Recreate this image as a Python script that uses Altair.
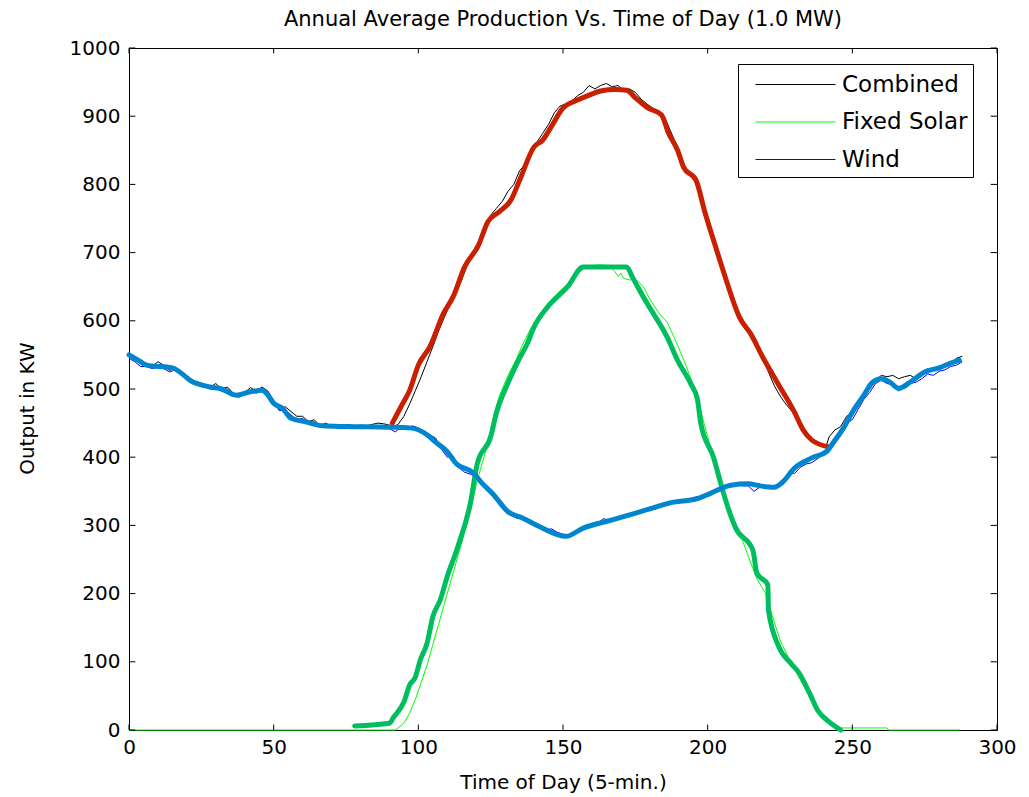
import altair as alt
import pandas as pd

# ---------------- data ----------------
# thick (smoothed) curves
wind_s_x = [0, 4, 6, 15, 19, 21, 28, 32, 37, 42, 46, 48, 50, 53, 56, 61, 67, 75, 90, 97, 103, 106, 110, 113,
            119, 122, 126, 131, 136, 142, 151, 157, 167, 179, 187, 197, 201, 208, 214, 218, 223, 226, 230, 236,
            241, 244, 247, 250, 254, 257, 260, 263, 266, 270, 275, 280, 284, 287]
wind_s_y = [550, 540, 535, 531, 520, 513, 503, 500, 491, 496, 498, 491, 479, 472, 457, 452, 446, 445, 444, 443,
            433, 422, 408, 391, 377, 362, 345, 320, 311, 298, 284, 296, 308, 323, 333, 340, 347, 359, 361, 358,
            356, 364, 384, 399, 408, 425, 443, 466, 491, 510, 515, 510, 501, 510, 525, 531, 538, 542]

comb_s_x = [91, 94, 97, 100, 104, 108.7, 112, 116, 120.8, 124, 128, 132, 135, 140, 143, 146, 150, 154, 158,
            163, 168, 172, 175, 179, 184, 186.5, 189.6, 191.7, 196, 199, 203, 206, 211, 215, 219, 224, 230,
            233, 236, 242]
comb_s_y = [450, 474, 498, 535, 562, 611, 635, 679, 711, 745, 760, 777, 806, 855, 865, 885, 912, 922, 929,
            937, 939, 938, 927, 913, 902, 875, 850, 825, 806, 760, 705, 665, 605, 580, 547, 510, 466, 440,
            425, 415]

solar_s_x = [78, 90, 91.5, 95, 97, 99, 100.7, 103, 105, 107.6, 110, 113.5, 118, 120.4, 125, 127, 131, 134.6,
             137.7, 140, 144.6, 151.6, 157, 172, 174, 175.8, 179, 186, 189.6, 194, 196.5, 197.6, 202, 204.5,
             205.5, 209.7, 215.6, 217, 220.8, 221, 224.6, 228.7, 231.5, 235, 238, 242, 246]
solar_s_y = [6, 10, 19, 41, 66, 78, 103, 127, 166, 191, 225, 267, 333, 391, 430, 465, 509, 542, 567, 591,
             620, 650, 679, 679, 664, 650, 626, 576, 542, 509, 484, 450, 400, 362, 347, 296, 264, 230, 213,
             176, 122, 98, 84, 56, 29, 12, 0]

# thin (raw) curves
solar_x = [0, 92, 93, 95, 97, 99, 101, 103, 105, 107, 109, 111, 113, 116, 118, 120, 122, 124, 126, 128, 131,
           134, 136, 139, 142, 145, 148, 152, 155, 158, 162, 166, 168, 169, 170, 171, 173, 175, 176, 178, 180,
           183, 186, 189, 192, 195, 197, 199, 202, 205, 208, 211, 214, 217, 220, 222, 225, 228, 231, 234, 237,
           240, 243, 245, 250, 262, 262.5, 287]
solar_y = [0, 0, 3, 10, 25, 45, 70, 95, 125, 155, 185, 215, 245, 290, 320, 360, 390, 420, 460, 490, 520,
           545, 565, 590, 610, 625, 640, 655, 668, 680, 682, 681, 672, 665, 670, 662, 660, 660, 658, 648, 632,
           612, 598, 570, 540, 506, 480, 445, 400, 355, 320, 290, 255, 222, 200, 172, 132, 105, 82, 58, 35,
           15, 6, 3, 3, 3, 0, 0]

wind_x = list(range(0, 290, 2))
wind_y = [545, 540, 533, 533, 530, 532, 530, 525, 528, 522, 515, 510, 507, 505, 500, 503, 497, 500, 492,
          488, 492, 497, 494, 498, 495, 480, 468, 470, 462, 455, 457, 450, 452, 444, 448, 443, 446, 444,
          447, 444, 446, 446, 445, 443, 446, 442, 437, 444, 442, 446, 443, 438, 433, 428, 412, 400, 402,
          385, 378, 375, 372, 362, 350, 347, 333, 327, 318, 310, 313, 308, 302, 300, 293, 295, 290, 287,
          285, 290, 295, 300, 302, 303, 310, 307, 310, 313, 312, 318, 320, 322, 327, 323, 332, 332, 336,
          336, 338, 337, 342, 340, 345, 347, 352, 355, 358, 360, 358, 358, 350, 356, 355, 355, 358, 360,
          378, 376, 385, 390, 392, 398, 404, 410, 420, 432, 450, 455, 470, 485, 495, 508, 513, 508, 506,
          497, 505, 508, 510, 515, 522, 520, 526, 528, 533, 535, 540]

comb_x = (list(range(0, 93, 2)) + list(range(93, 242, 2)) + list(range(242, 290, 2)))
comb_y = [548, 543, 537, 538, 533, 540, 535, 527, 532, 525, 517, 512, 510, 507, 503, 508, 500, 503, 494,
          490, 495, 502, 497, 503, 497, 483, 470, 474, 467, 460, 460, 452, 455, 446, 450, 445, 447, 445,
          448, 445, 447, 446, 448, 450, 449, 447, 446,
          448, 460, 478, 498, 518, 540, 562, 585, 605, 625, 640, 660, 683, 700, 715, 740, 755, 765, 775,
          790, 800, 820, 830, 850, 862, 875, 888, 905, 915, 918, 922, 930, 935, 945, 940, 945, 948, 943,
          945, 938, 940, 935, 925, 918, 912, 905, 900, 880, 860, 830, 820, 810, 790, 760, 735, 710, 680,
          655, 630, 610, 595, 585, 570, 545, 525, 505, 490, 478, 468, 455, 440, 428, 425, 420, 417,
          430, 440, 445, 460, 465, 475, 490, 500, 512, 520, 518, 520, 515, 518, 520, 515, 522, 530, 530,
          532, 535, 538, 545, 548]

series_names = ["Combined", "Fixed Solar", "Wind"]
thin_colors = ["#000000", "#00ff00", "#0000ff"]
thick_colors = ["#c82000", "#00be60", "#0085cf"]

x_ticks = [0, 50, 100, 150, 200, 250, 300]
y_ticks = [0, 100, 200, 300, 400, 500, 600, 700, 800, 900, 1000]

FONT = "DejaVu Sans"


def frame(xs, ys, name, order):
    n = min(len(xs), len(ys))
    return pd.DataFrame({"t": xs[:n], "kw": ys[:n], "series": name, "ord": order})


thin_df = pd.concat([
    frame(comb_x, comb_y, "Combined", 0),
    frame(solar_x, solar_y, "Fixed Solar", 1),
    frame(wind_x, wind_y, "Wind", 2),
])

x_scale = alt.Scale(domain=[0, 300], nice=False, zero=False)
y_scale = alt.Scale(domain=[0, 1000], nice=False)

x_enc = alt.X("t:Q", scale=x_scale,
              axis=alt.Axis(values=x_ticks, format="d", title="Time of Day (5-min.)", ticks=False,
                            labelPadding=7, titlePadding=15, grid=False, labelFlush=False))
y_enc = alt.Y("kw:Q", scale=y_scale,
              axis=alt.Axis(values=y_ticks, format="d", title="Output in KW", ticks=False, labelPadding=9,
                            grid=False, titleAngle=-90, titleX=-96, titleY=360, labelFlush=False,
                            titleAlign="center", titleBaseline="alphabetic"))

# legend line: a custom horizontal path, ~80 px long, with rows ~37 px apart
thin = alt.Chart(thin_df).mark_line(strokeWidth=1).encode(
    x=x_enc, y=y_enc,
    color=alt.Color("series:N",
                    scale=alt.Scale(domain=series_names, range=thin_colors),
                    legend=alt.Legend(title=None, orient="none", legendX=609, legendY=16,
                                      symbolType="M-0.2,0H5.13", symbolSize=900, symbolStrokeWidth=1,
                                      symbolFillColor="transparent",
                                      labelFont=FONT, labelFontSize=23, labelColor="black",
                                      fillColor="white", strokeColor="black", padding=5,
                                      rowPadding=9.5, labelOffset=68, labelLimit=300)),
    order="ord:Q",
    detail="series:N",
)

layers = [thin]
for xs, ys, name, col in [(comb_s_x, comb_s_y, "Combined", thick_colors[0]),
                          (solar_s_x, solar_s_y, "Fixed Solar", thick_colors[1]),
                          (wind_s_x, wind_s_y, "Wind", thick_colors[2])]:
    layers.append(
        alt.Chart(frame(xs, ys, name + " smoothed", 0)).mark_line(
            strokeWidth=5, color=col, strokeCap="round", strokeJoin="round", interpolate="monotone"
        ).encode(x=x_enc, y=y_enc)
    )

# inward tick marks (MATLAB style)
xt_df = pd.DataFrame({"t": x_ticks * 2,
                      "y0": [0] * len(x_ticks) + [1000] * len(x_ticks),
                      "y1": [8] * len(x_ticks) + [992] * len(x_ticks)})
yt_df = pd.DataFrame({"kw": y_ticks * 2,
                      "x0": [0] * len(y_ticks) + [300] * len(y_ticks),
                      "x1": [2.2] * len(y_ticks) + [297.8] * len(y_ticks)})
xt = alt.Chart(xt_df).mark_rule(color="black", strokeWidth=1).encode(
    x=x_enc, y=alt.Y("y0:Q", scale=y_scale), y2="y1:Q")
yt = alt.Chart(yt_df).mark_rule(color="black", strokeWidth=1).encode(
    y=y_enc, x=alt.X("x0:Q", scale=x_scale), x2="x1:Q")
layers += [xt, yt]

chart = alt.layer(*layers).properties(
    width=868, height=682,
    background="white",
    autosize=alt.AutoSizeParams(type="none"),
    padding={"left": 121, "top": 40, "right": 24, "bottom": 68},
    title=alt.Title("Annual Average Production Vs. Time of Day (1.0 MW)",
                    font=FONT, fontSize=21, fontWeight="normal", color="black", offset=8),
).configure_view(stroke="black", strokeWidth=1).configure_axis(
    domain=False, labelFont=FONT, labelFontSize=20, labelColor="black",
    titleFont=FONT, titleFontSize=20, titleFontWeight="normal", titleColor="black",
)

chart.save("out.html", embed_options={"renderer": "svg", "actions": False})
